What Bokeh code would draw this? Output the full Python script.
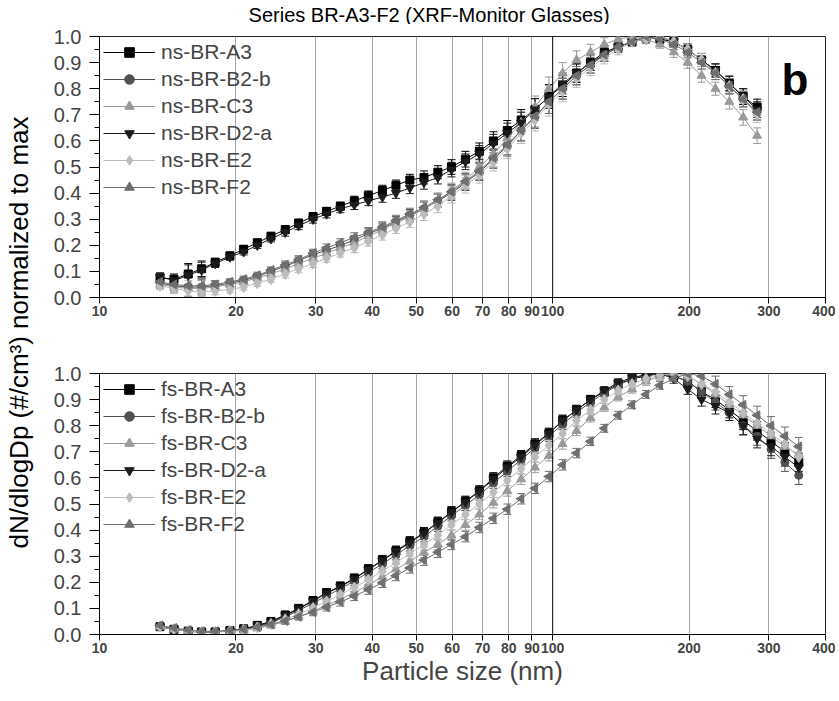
import math
from bokeh.plotting import figure
from bokeh.models import (Range1d, FixedTicker, NumeralTickFormatter, Whisker, TeeHead,
                          ColumnDataSource, Legend, LegendItem, Label, Span)
from bokeh.layouts import row, column
from bokeh.embed import file_html
from bokeh.resources import INLINE

# ---------------- data ----------------
x_ns = [13.6, 14.6, 15.7, 16.8, 18.0, 19.4, 20.8, 22.3, 23.9, 25.7,
        27.5, 29.6, 31.7, 34.0, 36.5, 39.2, 42.1, 45.1, 48.4, 52.0,
        55.8, 59.8, 64.2, 68.9, 74.0, 79.4, 85.2, 91.4, 98.1, 105.2,
        112.9, 121.2, 130.0, 139.5, 149.7, 160.7, 172.4, 185.0, 198.6, 213.1,
        228.7, 245.4, 263.3, 282.6]
x_fs = [13.6, 14.6, 15.7, 16.8, 18.0, 19.4, 20.8, 22.3, 23.9, 25.7,
        27.5, 29.6, 31.7, 34.0, 36.5, 39.2, 42.1, 45.1, 48.4, 52.0,
        55.8, 59.8, 64.2, 68.9, 74.0, 79.4, 85.2, 91.4, 98.1, 105.2,
        112.9, 121.2, 130.0, 139.5, 149.7, 160.7, 172.4, 185.0, 198.6, 213.1,
        228.7, 245.4, 263.3, 282.6, 303.3, 325.4, 349.2]

ns_A3 = [0.075, 0.07, 0.09, 0.11, 0.135, 0.16, 0.185, 0.21, 0.235, 0.26,
         0.285, 0.31, 0.33, 0.35, 0.37, 0.39, 0.41, 0.43, 0.45, 0.46,
         0.48, 0.50, 0.53, 0.56, 0.60, 0.64, 0.68, 0.72, 0.77, 0.81,
         0.86, 0.90, 0.94, 0.96, 0.98, 1.00, 0.99, 0.98, 0.95, 0.91,
         0.87, 0.82, 0.77, 0.73]
ns_B2b = [0.055, 0.045, 0.04, 0.04, 0.045, 0.055, 0.065, 0.08, 0.10, 0.12,
          0.14, 0.165, 0.18, 0.20, 0.22, 0.245, 0.265, 0.29, 0.315, 0.34,
          0.37, 0.40, 0.44, 0.48, 0.53, 0.58, 0.64, 0.69, 0.75, 0.80,
          0.85, 0.89, 0.93, 0.96, 0.98, 0.99, 1.00, 0.98, 0.95, 0.91,
          0.86, 0.81, 0.76, 0.71]
ns_C3 = [0.05, 0.04, 0.035, 0.035, 0.04, 0.05, 0.06, 0.075, 0.09, 0.11,
         0.13, 0.15, 0.17, 0.19, 0.21, 0.235, 0.26, 0.285, 0.31, 0.34,
         0.37, 0.41, 0.45, 0.50, 0.55, 0.61, 0.67, 0.73, 0.80, 0.86,
         0.91, 0.94, 0.97, 0.99, 1.00, 0.99, 0.97, 0.94, 0.90, 0.85,
         0.80, 0.75, 0.69, 0.62]
ns_D2a = [0.08, 0.065, 0.085, 0.105, 0.13, 0.155, 0.175, 0.20, 0.225, 0.25,
          0.275, 0.30, 0.32, 0.34, 0.355, 0.37, 0.385, 0.40, 0.42, 0.44,
          0.46, 0.49, 0.52, 0.55, 0.59, 0.63, 0.67, 0.72, 0.77, 0.82,
          0.86, 0.90, 0.93, 0.96, 0.98, 0.99, 1.00, 0.98, 0.95, 0.91,
          0.87, 0.82, 0.77, 0.72]
ns_E2 = [0.045, 0.035, 0.025, 0.02, 0.025, 0.03, 0.04, 0.055, 0.07, 0.09,
         0.11, 0.13, 0.15, 0.17, 0.19, 0.215, 0.24, 0.265, 0.29, 0.32,
         0.35, 0.39, 0.43, 0.47, 0.52, 0.57, 0.63, 0.68, 0.74, 0.79,
         0.84, 0.88, 0.92, 0.95, 0.98, 0.99, 1.00, 0.98, 0.95, 0.91,
         0.86, 0.81, 0.76, 0.70]
ns_F2 = [0.06, 0.05, 0.045, 0.045, 0.05, 0.06, 0.07, 0.085, 0.105, 0.125,
         0.145, 0.17, 0.19, 0.21, 0.23, 0.25, 0.27, 0.295, 0.32, 0.345,
         0.375, 0.405, 0.445, 0.485, 0.535, 0.585, 0.64, 0.695, 0.75, 0.80,
         0.85, 0.89, 0.93, 0.96, 0.98, 1.00, 0.99, 0.97, 0.94, 0.90,
         0.86, 0.81, 0.76, 0.71]
err_ns = [0.015, 0.02, 0.04, 0.03, 0.015, 0.012, 0.012, 0.012, 0.012, 0.015,
          0.015, 0.015, 0.015, 0.015, 0.018, 0.018, 0.02, 0.02, 0.022, 0.025,
          0.025, 0.028, 0.03, 0.032, 0.035, 0.038, 0.04, 0.042, 0.045, 0.04,
          0.035, 0.03, 0.025, 0.02, 0.015, 0.015, 0.015, 0.02, 0.022, 0.025,
          0.025, 0.028, 0.03, 0.03]

fs_A3 = [0.03, 0.02, 0.013, 0.01, 0.01, 0.015, 0.022, 0.035, 0.05, 0.075,
         0.10, 0.13, 0.16, 0.185, 0.215, 0.25, 0.285, 0.32, 0.355, 0.39,
         0.43, 0.47, 0.51, 0.55, 0.60, 0.645, 0.685, 0.73, 0.77, 0.82,
         0.86, 0.90, 0.93, 0.96, 0.98, 0.99, 1.00, 0.99, 0.97, 0.93,
         0.90, 0.86, 0.82, 0.78, 0.74, 0.70, 0.66]
fs_B2b = [0.03, 0.02, 0.013, 0.01, 0.01, 0.014, 0.02, 0.03, 0.045, 0.068,
          0.092, 0.12, 0.148, 0.175, 0.205, 0.238, 0.27, 0.305, 0.34, 0.375,
          0.415, 0.455, 0.495, 0.535, 0.58, 0.625, 0.67, 0.715, 0.76, 0.805,
          0.85, 0.89, 0.925, 0.955, 0.98, 0.995, 1.00, 0.99, 0.97, 0.93,
          0.89, 0.85, 0.80, 0.76, 0.71, 0.66, 0.61]
fs_C3 = [0.03, 0.02, 0.013, 0.01, 0.01, 0.012, 0.016, 0.024, 0.035, 0.05,
         0.068, 0.09, 0.112, 0.135, 0.16, 0.19, 0.22, 0.25, 0.28, 0.315,
         0.345, 0.38, 0.42, 0.46, 0.505, 0.55, 0.595, 0.64, 0.685, 0.73,
         0.78, 0.83, 0.87, 0.91, 0.94, 0.97, 0.99, 1.00, 0.99, 0.96,
         0.92, 0.88, 0.84, 0.80, 0.76, 0.72, 0.69]
fs_D2a = [0.03, 0.02, 0.012, 0.009, 0.01, 0.014, 0.02, 0.033, 0.048, 0.072,
          0.098, 0.128, 0.158, 0.183, 0.213, 0.248, 0.283, 0.318, 0.352, 0.388,
          0.428, 0.468, 0.508, 0.548, 0.595, 0.64, 0.68, 0.725, 0.77, 0.82,
          0.86, 0.90, 0.935, 0.965, 0.985, 0.995, 1.00, 0.98, 0.94, 0.90,
          0.875, 0.85, 0.80, 0.75, 0.72, 0.68, 0.64]
fs_E2 = [0.03, 0.02, 0.013, 0.01, 0.01, 0.013, 0.018, 0.027, 0.04, 0.058,
         0.078, 0.102, 0.127, 0.153, 0.18, 0.21, 0.243, 0.275, 0.31, 0.345,
         0.38, 0.42, 0.46, 0.50, 0.545, 0.59, 0.635, 0.68, 0.725, 0.77,
         0.82, 0.86, 0.90, 0.935, 0.96, 0.98, 0.995, 1.00, 0.99, 0.96,
         0.93, 0.89, 0.85, 0.81, 0.77, 0.73, 0.68]
fs_F2 = [0.035, 0.025, 0.017, 0.012, 0.012, 0.015, 0.02, 0.028, 0.038, 0.052,
         0.068, 0.086, 0.105, 0.125, 0.147, 0.172, 0.198, 0.225, 0.255, 0.285,
         0.315, 0.345, 0.375, 0.41, 0.445, 0.48, 0.52, 0.56, 0.605, 0.65,
         0.695, 0.74, 0.79, 0.84, 0.88, 0.92, 0.955, 0.98, 1.00, 0.99,
         0.96, 0.92, 0.88, 0.84, 0.80, 0.76, 0.72]
err_fs = [0.008, 0.006, 0.005, 0.005, 0.005, 0.006, 0.007, 0.008, 0.01, 0.012,
          0.012, 0.014, 0.015, 0.016, 0.017, 0.018, 0.018, 0.019, 0.02, 0.02,
          0.02, 0.02, 0.02, 0.02, 0.02, 0.02, 0.02, 0.02, 0.02, 0.02,
          0.018, 0.016, 0.015, 0.015, 0.015, 0.015, 0.015, 0.018, 0.02, 0.025,
          0.03, 0.03, 0.035, 0.035, 0.035, 0.035, 0.035]

series_ids = ["A3", "B2-b", "C3", "D2-a", "E2", "F2"]
ns_values = [ns_A3, ns_B2b, ns_C3, ns_D2a, ns_E2, ns_F2]
fs_values = [fs_A3, fs_B2b, fs_C3, fs_D2a, fs_E2, fs_F2]

x_tick_values = [10, 20, 30, 40, 50, 60, 70, 80, 90, 100, 200, 300, 400]
x_grid_values = [20, 30, 40, 50, 60, 70, 80, 90, 200, 300]
y_tick_values = [0.0, 0.1, 0.2, 0.3, 0.4, 0.5, 0.6, 0.7, 0.8, 0.9, 1.0]
y_minor_values = [0.05, 0.15, 0.25, 0.35, 0.45, 0.55, 0.65, 0.75, 0.85, 0.95]

title_text = "Series BR-A3-F2 (XRF-Monitor Glasses)"
y_title = "dN/dlogDp (#/cm\u00b3) normalized to max"
x_title = "Particle size (nm)"
panel_tag = "b"

# ---------------- styles ----------------
colors = ["#000000", "#505050", "#9a9a9a", "#1c1c1c", "#bcbcbc", "#6f6f6f"]
markers = ["square", "circle", "triangle", "inverted_triangle", "diamond", "triangle"]
angles = [0, 0, 0, 0, 0, math.pi / 2]
sizes = [8, 8, 9, 9, 11, 9]
FONT = "Liberation Sans"
LEFT_W = 40
BORDER_L = 59
FRAME_W = 726
BORDER_R = 10
FIG_W = BORDER_L + FRAME_W + BORDER_R
FRAME_H = 261
TOP_B1, BOT_B1 = 12, 28
TOP_B2, BOT_B2 = 48, 56


def make_panel(prefix, xs, values, errs, top, bottom, with_xlabel):
    p = figure(width=FIG_W, height=top + FRAME_H + bottom, x_axis_type="log",
               x_range=Range1d(10, 400), y_range=Range1d(0, 1),
               output_backend="svg", toolbar_location=None,
               min_border_left=BORDER_L, min_border_right=BORDER_R,
               min_border_top=top, min_border_bottom=bottom)
    p.outline_line_color = "#222222"
    p.outline_line_width = 1
    p.background_fill_color = "white"
    p.border_fill_color = "white"

    p.ygrid.visible = False
    p.xgrid.ticker = FixedTicker(ticks=x_grid_values)
    p.xgrid.grid_line_color = "#a6a6a6"
    p.xgrid.grid_line_width = 1
    p.add_layout(Span(location=100, dimension="height", line_color="#000000", line_width=1))

    xa = p.xaxis[0]
    xa.ticker = FixedTicker(ticks=x_tick_values)
    xa.formatter = NumeralTickFormatter(format="0")
    xa.major_label_text_font = FONT
    xa.major_label_text_font_style = "bold"
    xa.major_label_text_font_size = "14px"
    xa.major_label_standoff = 2
    xa.major_tick_out = 6
    xa.major_tick_in = 0
    xa.minor_tick_line_color = None
    xa.axis_line_color = "#000000"
    xa.major_tick_line_color = "#000000"
    if with_xlabel:
        xa.axis_label = x_title
        xa.axis_label_text_font = FONT
        xa.axis_label_text_font_style = "normal"
        xa.axis_label_text_font_size = "26px"
        xa.axis_label_standoff = 0

    ya = p.yaxis[0]
    ya.ticker = FixedTicker(ticks=y_tick_values, minor_ticks=y_minor_values)
    ya.formatter = NumeralTickFormatter(format="0.0")
    ya.major_label_text_font = FONT
    ya.major_label_text_font_size = "20px"
    ya.major_label_standoff = 8
    ya.major_tick_out = 10
    ya.major_tick_in = 0
    ya.minor_tick_out = 5
    ya.minor_tick_in = 0
    ya.axis_line_color = "#000000"

    items = []
    for i, sid in enumerate(series_ids):
        ys = values[i]
        lo = [y - e for y, e in zip(ys, errs)]
        hi = [y + e for y, e in zip(ys, errs)]
        src = ColumnDataSource(dict(x=xs, y=ys, lo=lo, hi=hi))
        c = colors[i]
        p.add_layout(Whisker(base="x", upper="hi", lower="lo", source=src,
                             line_color=c, line_width=1,
                             upper_head=TeeHead(size=8, line_color=c, line_width=1),
                             lower_head=TeeHead(size=8, line_color=c, line_width=1)))
        lr = p.line("x", "y", source=src, line_color=c, line_width=1)
        sr = p.scatter("x", "y", source=src, marker=markers[i], angle=angles[i],
                       size=sizes[i], fill_color=c, line_color=c)
        items.append(LegendItem(label=f"{prefix}-BR-{sid}", renderers=[lr, sr]))

    leg = Legend(items=items, location="top_left")
    leg.margin = 4
    leg.padding = 0
    leg.spacing = 3
    leg.glyph_width = 52
    leg.glyph_height = 24
    leg.label_height = 24
    leg.label_standoff = 6
    leg.label_text_font = FONT
    leg.label_text_font_size = "21px"
    leg.border_line_alpha = 0
    leg.background_fill_alpha = 0
    p.add_layout(leg)
    return p


# title strip
TITLE_H = 24
tfig = figure(width=FIG_W, height=TITLE_H, x_range=Range1d(0, FIG_W), y_range=Range1d(0, TITLE_H),
              output_backend="svg", toolbar_location=None,
              x_axis_location=None, y_axis_location=None,
              min_border=0, min_border_left=0, min_border_right=0,
              min_border_top=0, min_border_bottom=0)
tfig.grid.visible = False
tfig.outline_line_color = None
tfig.add_layout(Label(x=361, y=10, text=title_text, text_align="center",
                      text_baseline="middle", text_font=FONT, text_font_size="20px",
                      text_color="#000000"))

ptop = make_panel("ns", x_ns, ns_values, err_ns, TOP_B1, BOT_B1, False)
pbot = make_panel("fs", x_fs, fs_values, err_fs, TOP_B2, BOT_B2, True)

ptop.add_layout(Label(x=320, y=0.835, text=panel_tag, text_align="left",
                      text_baseline="alphabetic", text_font=FONT, text_font_size="44px",
                      text_font_style="bold", text_color="#000000"))

total_h = TITLE_H + (TOP_B1 + FRAME_H + BOT_B1) + (TOP_B2 + FRAME_H + BOT_B2)
yfig = figure(width=LEFT_W, height=total_h, x_range=Range1d(0, LEFT_W), y_range=Range1d(0, total_h),
              output_backend="svg", toolbar_location=None,
              x_axis_location=None, y_axis_location=None,
              min_border=0, min_border_left=0, min_border_right=0,
              min_border_top=0, min_border_bottom=0)
yfig.grid.visible = False
yfig.outline_line_color = None
yfig.add_layout(Label(x=18, y=total_h - 332, text=y_title, angle=math.pi / 2,
                      text_align="center", text_baseline="middle", text_font=FONT,
                      text_font_size="26px", text_color="#000000"))

layout = row(yfig, column(tfig, ptop, pbot))
open("out.html", "w").write(file_html(layout, INLINE))
